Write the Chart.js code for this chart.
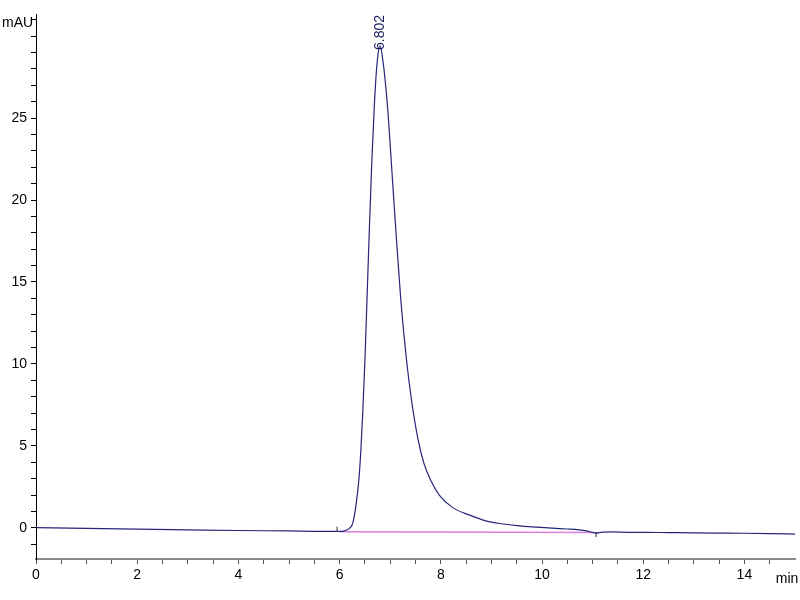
<!DOCTYPE html>
<html lang="en">
<head>
    <meta charset="UTF-8">
    <title>Chromatogram</title>
    <script src="https://cdn.jsdelivr.net/npm/chart.js"></script>
    <style>
        body { margin: 0; background: #fff; }
        #wrap { width: 800px; height: 600px; position: relative; }
    </style>
</head>
<body>
<div id="wrap">
    <canvas id="chroma"></canvas>
</div>
<script>
    // retention time (min) and signal (mAU)
    const times = [0, 1, 2, 3, 4, 5, 5.5, 5.9, 6.0, 6.1, 6.15, 6.2, 6.26, 6.32, 6.38, 6.42, 6.46, 6.50, 6.54, 6.59, 6.64, 6.69, 6.745,
        6.80, 6.86, 6.91, 6.96, 7.02, 7.08, 7.14, 7.21, 7.32, 7.43, 7.55, 7.67, 7.80, 7.97, 8.23, 8.56, 8.89, 9.2, 9.55, 9.9, 10.2, 10.5, 10.73, 10.9,
        11.06, 11.2, 11.4, 11.7, 12, 12.5, 13, 13.5, 14, 14.5, 15];
    const signal = [0.02, -0.03, -0.08, -0.12, -0.16, -0.19, -0.21, -0.22, -0.22, -0.18, -0.12, -0.02, 0.29, 1.3, 2.9, 4.7, 7.2, 10.2, 13.8, 18.4, 22.6, 26.0, 28.5,
        29.4, 28.4, 27.0, 25.2, 22.4, 19.6, 16.9, 13.9, 10.3, 7.6, 5.4, 3.9, 2.9, 2.0, 1.25, 0.79, 0.43, 0.25, 0.12, 0.04, -0.02, -0.07, -0.12, -0.2,
        -0.32, -0.26, -0.25, -0.27, -0.27, -0.29, -0.31, -0.32, -0.33, -0.35, -0.38];

    // integration baseline under the peak
    const baseTimes = [6.0, 11.07];
    const baseLevels = [-0.23, -0.28];

    // peak start / end event marks
    const eventTimes = [5.95, 11.07];
    const eventLevels = [-0.07, -0.41];

    const peakTime = 6.802;
    const peakLabel = '6.802';

    const xTickLabels = [0, 2, 4, 6, 8, 10, 12, 14];
    const yTickLabels = [0, 5, 10, 15, 20, 25];

    const FONT = "'Liberation Sans Narrow', 'Liberation Sans', Arial, sans-serif";
    Chart.defaults.font.family = FONT;
    Chart.defaults.font.size = 14;
    Chart.defaults.color = '#000';

    const traceColor = '#25257a';

    const annotate = {
        id: 'annotate',
        afterDraw(chart) {
            const ctx = chart.ctx;
            const x = chart.scales.x, y = chart.scales.y;
            ctx.save();
            ctx.fillStyle = '#000';
            ctx.font = '14px ' + FONT;
            ctx.textBaseline = 'middle';
            ctx.textAlign = 'left';
            ctx.fillText('mAU', 2, 23);
            ctx.textAlign = 'center';
            ctx.fillText('min', 787, 579);

            // peak label, rotated, sitting on the apex
            const top = Math.max(...signal);
            const px = x.getPixelForValue(peakTime);
            const py = y.getPixelForValue(top);
            ctx.translate(px, py + 4);
            ctx.rotate(-Math.PI / 2);
            ctx.fillStyle = '#1c1c60';
            ctx.font = '14px ' + FONT;
            ctx.textAlign = 'left';
            ctx.fillText(peakLabel, 0, 0);
            ctx.restore();
        }
    };

    new Chart(document.getElementById('chroma'), {
        type: 'line',
        data: {
            datasets: [
                {
                    label: 'baseline',
                    data: baseTimes.map((t, i) => ({x: t, y: baseLevels[i]})),
                    borderColor: '#dd80dd',
                    borderWidth: 1.5,
                    pointRadius: 0,
                    order: 2
                },
                {
                    label: 'signal',
                    data: times.map((t, i) => ({x: t, y: signal[i]})),
                    borderColor: traceColor,
                    borderWidth: 1.2,
                    pointRadius: 0,
                    cubicInterpolationMode: 'monotone',
                    order: 1
                },
                {
                    label: 'events',
                    data: eventTimes.map((t, i) => ({x: t, y: eventLevels[i]})),
                    showLine: false,
                    pointStyle: 'line',
                    rotation: 90,
                    pointRadius: 2.5,
                    borderColor: '#333',
                    borderWidth: 1,
                    order: 0
                }
            ]
        },
        options: {
            responsive: true,
            maintainAspectRatio: false,
            animation: false,
            layout: {padding: {top: 14, right: 4, left: 0, bottom: 0}},
            plugins: {legend: {display: false}, tooltip: {enabled: false}},
            scales: {
                x: {
                    type: 'linear',
                    min: 0,
                    max: 15,
                    afterFit(scale) { scale.height = 41; },
                    // no tick or label at the right end, the unit sits there
                    afterBuildTicks(scale) { scale.ticks = scale.ticks.filter(t => t.value < 14.9); },
                    border: {display: true, color: '#8a8a8a', width: 2},
                    grid: {drawOnChartArea: false, drawTicks: true, tickLength: 5, color: '#555'},
                    ticks: {
                        stepSize: 0.5,
                        includeBounds: false,
                        autoSkip: false,
                        maxRotation: 0,
                        padding: 3,
                        callback: v => xTickLabels.includes(v) ? String(v) : ''
                    }
                },
                y: {
                    type: 'linear',
                    min: -1.9,
                    max: 31.35,
                    afterFit(scale) { scale.width = 36; },
                    border: {display: true, color: '#000', width: 1},
                    grid: {drawOnChartArea: false, drawTicks: true, tickLength: 5, color: '#000'},
                    ticks: {
                        stepSize: 1,
                        includeBounds: false,
                        autoSkip: false,
                        padding: 4,
                        callback: v => yTickLabels.includes(v) ? String(v) : ''
                    }
                }
            }
        },
        plugins: [annotate]
    });
</script>
</body>
</html>
